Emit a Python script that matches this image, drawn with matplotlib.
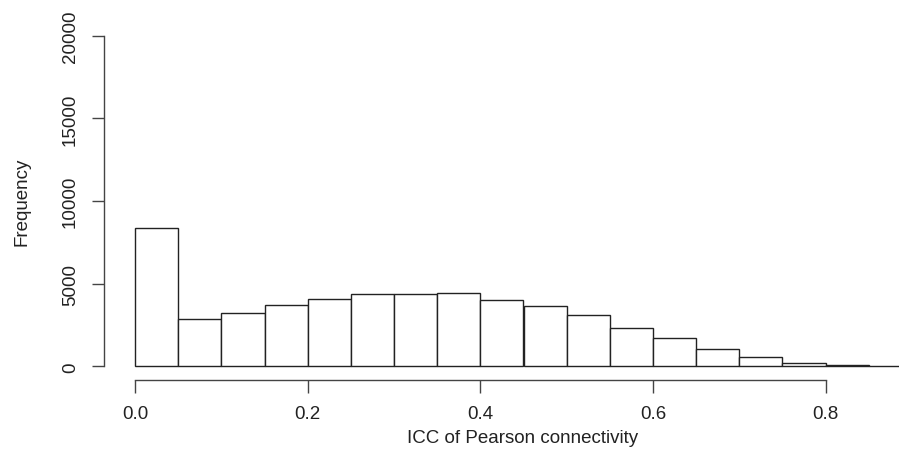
import matplotlib
matplotlib.use("Agg")
import matplotlib.pyplot as plt

plt.rcParams['font.family'] = ['Liberation Sans', 'DejaVu Sans']

# Histogram bins (width 0.05) and counts
bin_edges = [0.00, 0.05, 0.10, 0.15, 0.20, 0.25, 0.30, 0.35, 0.40,
             0.45, 0.50, 0.55, 0.60, 0.65, 0.70, 0.75, 0.80, 0.85, 0.90]
counts = [8350, 2850, 3210, 3730, 4100, 4400, 4400, 4460, 4040,
          3650, 3100, 2340, 1750, 1050, 570, 210, 85, 20]

x_ticks = [0.0, 0.2, 0.4, 0.6, 0.8]
x_tick_labels = ['0.0', '0.2', '0.4', '0.6', '0.8']
y_ticks = [0, 5000, 10000, 15000, 20000]

W, H = 899, 477
fig = plt.figure(figsize=(W / 100, H / 100), dpi=100)

# plot region in pixels: left 104, right 943 (past the figure edge), top 23.5, bottom 380.7
left, right, top, bottom = 104, 943, 23.5, 380.7
ax = fig.add_axes([left / W, (H - bottom) / H, (right - left) / W, (bottom - top) / H])

widths = [bin_edges[i + 1] - bin_edges[i] for i in range(len(counts))]
ax.bar(bin_edges[:-1], counts, width=widths, align='edge',
       facecolor='white', edgecolor='#222222', linewidth=1.0)

# R-style ranges: 4% padding around breaks and 0..20000
xr = bin_edges[-1] - bin_edges[0]
ax.set_xlim(bin_edges[0] - 0.04 * xr, bin_edges[-1] + 0.04 * xr)
ax.set_ylim(-800, 20800)

for s in ['top', 'right']:
    ax.spines[s].set_visible(False)
for s in ['left', 'bottom']:
    ax.spines[s].set_color('#444444')
    ax.spines[s].set_linewidth(1.0)
ax.spines['bottom'].set_bounds(x_ticks[0], x_ticks[-1])
ax.spines['left'].set_bounds(y_ticks[0], y_ticks[-1])

ax.set_xticks(x_ticks)
ax.set_xticklabels(x_tick_labels)
ax.set_yticks(y_ticks)
ax.set_yticklabels([str(v) for v in y_ticks], rotation=90, va='center')
ax.tick_params(direction='out', length=9, width=1.0, color='#444444',
               labelsize=13.5, labelcolor='#222222', pad=9)

ax.set_xlabel('ICC of Pearson connectivity', fontsize=13.5, color='#222222')
ax.set_ylabel('Frequency', fontsize=13.5, color='#222222')
ax.xaxis.set_label_coords((523 - left) / (right - left), (bottom - 439) / (bottom - top))
ax.xaxis.label.set_va('center')
ax.yaxis.set_label_coords((22 - left) / (right - left), 0.5)
ax.yaxis.label.set_va('center')

fig.savefig('out.png', dpi=100)
